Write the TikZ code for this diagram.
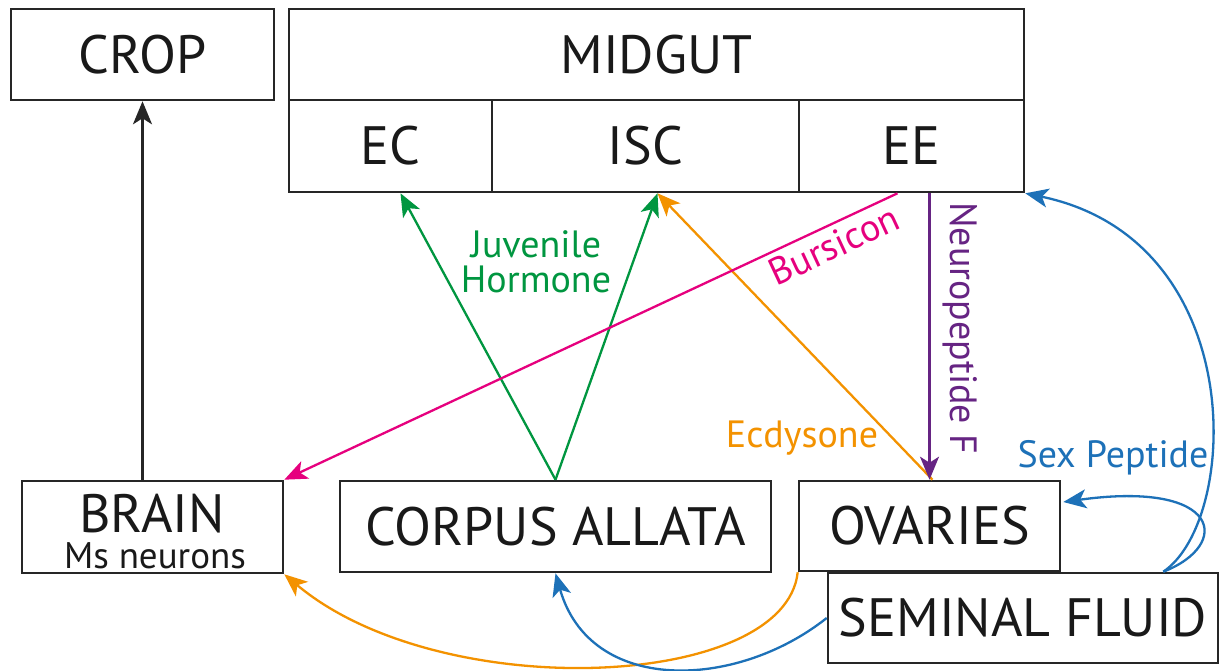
\documentclass[tikz,border=0pt]{standalone}
\usepackage{fontspec}
\setmainfont{PT Sans}
\usetikzlibrary{arrows.meta,calc}
\definecolor{cgreen}{RGB}{0,150,64}
\definecolor{corange}{RGB}{243,146,0}
\definecolor{cpink}{RGB}{230,0,126}
\definecolor{cpurple}{RGB}{102,36,131}
\definecolor{cblue}{RGB}{29,113,184}
\tikzset{
  box/.style={draw=black!85, line width=2.6pt, inner sep=0pt, font=\fontsize{54}{58}\selectfont, text=black!90},
  lab/.style={font=\fontsize{38}{42}\selectfont, inner sep=0pt, align=center},
  conn/.style={line width=2.3pt, -{Stealth[length=23pt,width=19pt,inset=6pt]}},
}
\begin{document}
\begin{tikzpicture}[x=1pt,y=-1pt]
\useasboundingbox (0,0) rectangle (1220,671);
\fill[white] (0,0) rectangle (1220,671);
% boxes
\node[box, minimum width=263pt, minimum height=91pt] (crop) at (142.5,54.5) {CROP};
\node[box, minimum width=735pt, minimum height=91pt] (mg) at (656.5,54.5) {MIDGUT};
\node[box, minimum width=203pt, minimum height=92pt] (ec) at (390.5,146) {EC};
\node[box, minimum width=307pt, minimum height=92pt] (isc) at (645.5,146) {ISC};
\node[box, minimum width=225pt, minimum height=92pt] (ee) at (911.5,146) {EE};
\node[box, minimum width=261pt, minimum height=92pt] (brain) at (152.5,527) {};
\node[font=\fontsize{54}{58}\selectfont, text=black!90, inner sep=0pt] (braint) at (152,514) {BRAIN};
\node[font=\fontsize{37}{40}\selectfont, text=black!90, inner sep=0pt] (brainms) at (155,556) {Ms neurons};
\node[box, minimum width=431pt, minimum height=91pt] (ca) at (555.5,526.5) {CORPUS ALLATA};
\node[box, minimum width=261pt, minimum height=90pt] (ov) at (929.5,526) {OVARIES};
\node[box, minimum width=390pt, minimum height=90pt] (sf) at (1023,618) {SEMINAL FLUID};
% connectors
\draw[conn, black!85] (brain.north -| crop.south) -- (crop.south);
\draw[conn, cgreen] (ca.north) -- ($(ec.south)+(10,0)$);
\draw[conn, cgreen] (ca.north) -- ($(isc.south)+(12,0)$);
\draw[conn, corange] ($(ov.north)+(3,0)$) -- ($(isc.south)+(12,0)$);
\draw[conn, cpink] ($(ee.south)+(-14,0)$) -- (brain.north east);
\draw[conn, cpurple] (ee.south -| ov.north) -- (ov.north);
\coordinate (sftop) at ($(sf.north east)+(-56,0)$);
\draw[conn, cblue] (sftop) .. controls (1240,520) and (1250,240) .. (ee.south east);
\draw[conn, cblue] (sftop) .. controls (1232,545) and (1222,480) .. ($(ov.east)+(2,-24)$);
\draw[conn, corange] (ov.south west) .. controls (785,690) and (440,705) .. (brain.south east);
\draw[conn, cblue] (sf.west) .. controls (736,690) and (590,695) .. (ca.south);
% labels
\node[lab, text=cgreen] (jh) at (536,262) {Juvenile\\[-7pt]Hormone};
\node[lab, text=cpink, rotate=25] (bur) at (834,245) {Bursicon};
\node[lab, text=cpurple, rotate=-90] (npf) at (960,328) {Neuropeptide F};
\node[lab, text=corange] (ecd) at (802,438) {Ecdysone};
\node[lab, text=cblue] (sp) at (1113,458) {Sex Peptide};
\end{tikzpicture}
\end{document}
